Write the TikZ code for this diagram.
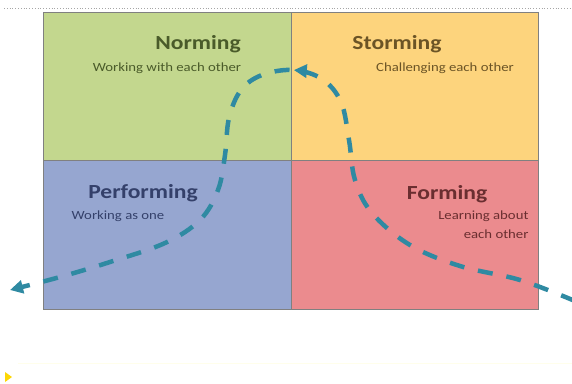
\documentclass[tikz,border=0pt]{standalone}
\usepackage{fontspec}
\newfontfamily\quadfont[FakeStretch=1.18]{Carlito}
\usetikzlibrary{arrows.meta,decorations.markings}
\definecolor{normfill}{HTML}{C3D78E}
\definecolor{stormfill}{HTML}{FDD47D}
\definecolor{perffill}{HTML}{96A6D0}
\definecolor{formfill}{HTML}{EB8B8E}
\definecolor{normtext}{HTML}{4A5B2A}
\definecolor{stormtext}{HTML}{6B5426}
\definecolor{perftext}{HTML}{34406A}
\definecolor{formtext}{HTML}{6A2E30}
\definecolor{flowcol}{HTML}{2F8AA2}

\begin{document}
\begin{tikzpicture}[x=1pt,y=-1pt,
    quad/.style={draw=black!50,line width=0.6pt,anchor=north west,inner sep=0pt},
    title/.style={font=\quadfont\bfseries\fontsize{20}{22}\selectfont},
    sub/.style={font=\quadfont\fontsize{12.5}{19}\selectfont},
    flow/.style={draw=flowcol,line width=4.5pt,dash pattern=on 15pt off 14pt},
    tip/.style={-{Triangle[width=13pt,length=13pt]}}]
  \useasboundingbox (0,0) rectangle (572,383);
  \draw[black!35,dotted,line width=0.8pt] (4,8) coordinate (T1) -- (572,8) coordinate (T2);
  \node[quad,fill=normfill,minimum width=248,minimum height=148] (NQ) at (43,12) {};
  \node[quad,fill=stormfill,minimum width=247,minimum height=148] (SQ) at (291,12) {};
  \node[quad,fill=perffill,minimum width=248,minimum height=149] (PQ) at (43,160) {};
  \node[quad,fill=formfill,minimum width=247,minimum height=149] (FQ) at (291,160) {};
  \node[title,text=normtext] (NT) at (198,44) {Norming};
  \node[sub,text=normtext] (NS) at (167,68) {Working with each other};
  \node[title,text=stormtext] (ST) at (397,44) {Storming};
  \node[sub,text=stormtext] (SS) at (445,68) {Challenging each other};
  \node[title,text=perftext] (PT) at (143,193) {Performing};
  \node[sub,text=perftext] (PS) at (118,216) {Working as one};
  \node[title,text=formtext] (FT) at (447,194) {Forming};
  \node[sub,text=formtext,align=right,anchor=east] (FS) at (532,225) {Learning about\\each other};
  \coordinate (start) at (575,301);
  \coordinate (finish) at (10,290);
  \draw[flow,tip,postaction={decorate},
    decoration={markings,mark=at position 0.5 with {\arrow{Triangle[width=13pt,length=13pt]}}}]
    plot[smooth,tension=0.6] coordinates {(start) (520,280) (460,266) (410,245) (372,213)
      (355,180) (349,140) (341,102) (322,79) (293,70) (262,75) (241,90) (229,118) (225,155)
      (218,190) (200,220) (165,243) (110,262) (60,277) (finish)};
  \draw[yellow!8,line width=1pt] (18,363) coordinate (B1) -- (572,363) coordinate (B2);
  \fill[yellow!75!orange] (5,372) coordinate (Y) -- (12,377) -- (5,382) -- cycle;
\end{tikzpicture}
\end{document}
